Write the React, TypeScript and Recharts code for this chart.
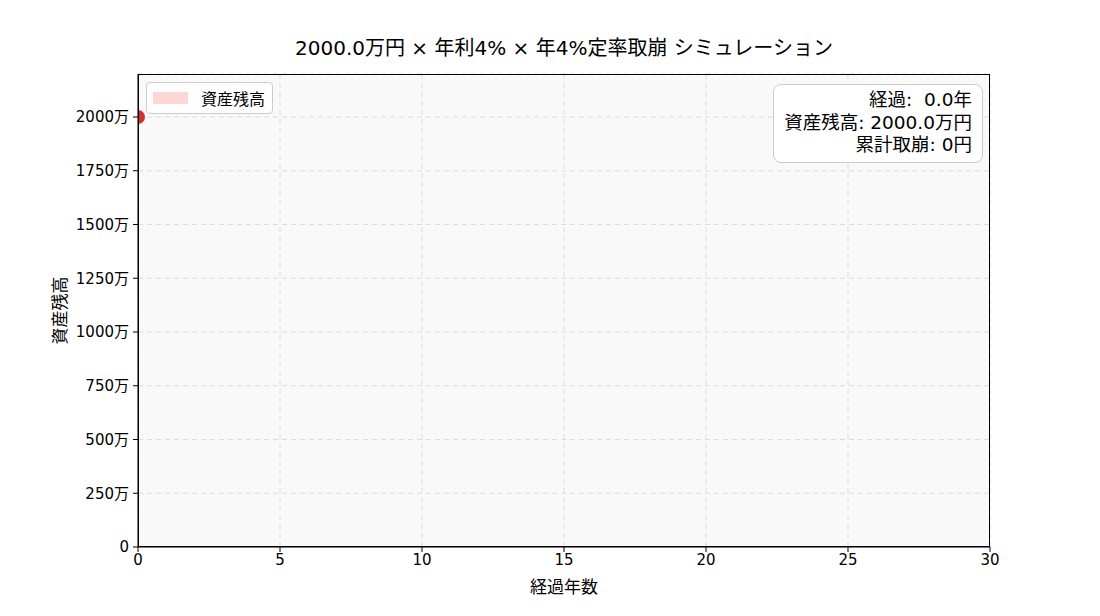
import { LineChart, Line, XAxis, YAxis, CartesianGrid } from "recharts";

const years = [0];
const balances = [2000];
const xTicks = [0, 5, 10, 15, 20, 25, 30];
const yTicks = [0, 250, 500, 750, 1000, 1250, 1500, 1750, 2000];
const title = "2000.0万円 × 年利4% × 年4%定率取崩 シミュレーション";
const infoLines = ["経過:  0.0年", "資産残高: 2000.0万円", "累計取崩: 0円"];

const FONT = "'DejaVu Sans', 'Noto Sans CJK JP', sans-serif";
const data = years.map((y, i) => ({ year: y, balance: balances[i] }));

// plot box (matches the chart margins below)
const PLOT = { left: 138, top: 74, width: 852, height: 473 };

export default function App() {
  return (
    <div style={{ position: "absolute", left: 0, top: 0, width: 1100, height: 616, background: "#fff", fontFamily: FONT }}>
      <div
        style={{
          position: "absolute", top: 35, left: PLOT.left, width: PLOT.width, textAlign: "center",
          fontSize: 20, lineHeight: "26px", color: "#000", whiteSpace: "nowrap",
        }}
      >
        {title}
      </div>
      <LineChart width={1100} height={616} data={data} margin={{ top: 74, right: 110, bottom: 29, left: 58 }}>
        <defs>
          <clipPath id="plot-clip">
            <rect x={PLOT.left} y={PLOT.top} width={PLOT.width} height={PLOT.height} />
          </clipPath>
        </defs>
        <CartesianGrid stroke="#dcdcdc" strokeDasharray="5 4" fill="#f9f9f9" />
        <XAxis
          dataKey="year"
          type="number"
          domain={[0, 30]}
          ticks={xTicks}
          allowDataOverflow
          stroke="#000"
          tickSize={5}
          tickMargin={2}
          tick={{ fill: "#000", fontSize: 15, fontFamily: FONT }}
          label={{ value: "経過年数", position: "insideBottom", offset: -6, fill: "#000", fontSize: 17, fontFamily: FONT }}
          height={40}
        />
        <YAxis
          type="number"
          domain={[0, 2200]}
          ticks={yTicks}
          allowDataOverflow
          stroke="#000"
          tickSize={5}
          tickMargin={4}
          width={80}
          tickFormatter={(v: number) => (v === 0 ? "0" : `${v}万`)}
          tick={{ fill: "#000", fontSize: 15, fontFamily: FONT }}
          label={{ value: "資産残高", angle: -90, position: "center", dx: -38, fill: "#000", fontSize: 17, fontFamily: FONT }}
        />
        <Line
          dataKey="balance"
          type="linear"
          stroke="#d32f2f"
          strokeWidth={2}
          dot={{ r: 7, fill: "#d32f2f", stroke: "#d32f2f", strokeWidth: 0, clipPath: "url(#plot-clip)" }}
          isAnimationActive={false}
        />
      </LineChart>
      <div
        style={{
          position: "absolute", left: PLOT.left, top: PLOT.top, width: PLOT.width, height: PLOT.height,
          boxSizing: "border-box", border: "1.3px solid #000", pointerEvents: "none",
        }}
      />
      <div
        style={{
          position: "absolute", left: 146, top: 82, height: 32, boxSizing: "border-box",
          border: "1px solid #ccc", borderRadius: 4, background: "rgba(255,255,255,0.8)",
          display: "flex", alignItems: "center", padding: "0 7px 0 6px", fontSize: 16, color: "#000",
        }}
      >
        <span style={{ display: "inline-block", width: 35, height: 12, background: "#fdd6d6", marginRight: 13 }} />
        資産残高
      </div>
      <div
        style={{
          position: "absolute", right: 117, top: 84, boxSizing: "border-box",
          border: "1px solid #ccc", borderRadius: 8, background: "#fff",
          padding: "4px 10px 5px 10px", fontSize: 18.5, lineHeight: "22.5px", textAlign: "right", color: "#000", whiteSpace: "pre",
        }}
      >
        {infoLines.map((l) => (
          <div key={l}>{l}</div>
        ))}
      </div>
    </div>
  );
}
